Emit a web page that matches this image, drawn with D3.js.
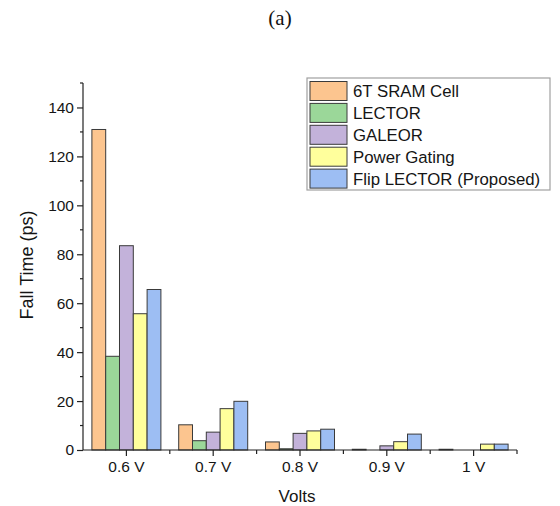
<!DOCTYPE html>
<html>
<head>
<meta charset="utf-8">
<script src="https://cdn.jsdelivr.net/npm/d3@7"></script>
<style>
  html, body { margin: 0; padding: 0; background: #fff; }
  svg { display: block; }
  text { font-family: "Liberation Sans", Arial, sans-serif; fill: #151515; }
</style>
</head>
<body>
<svg id="chart" width="560" height="506"></svg>
<script>
// Fall time (ps) per supply voltage for each cell design
const categories = ["0.6 V", "0.7 V", "0.8 V", "0.9 V", "1 V"];
const seriesNames = ["6T SRAM Cell", "LECTOR", "GALEOR", "Power Gating", "Flip LECTOR (Proposed)"];
const sram6T      = [131, 10.3, 3.3, 0.3, 0.3];
const lector      = [38.3, 3.8, 0.5, 0, 0];
const galeor      = [83.5, 7.3, 6.8, 1.7, 0];
const powerGating = [55.7, 16.9, 7.8, 3.4, 2.4];
const flipLector  = [65.6, 19.9, 8.5, 6.5, 2.4];
const yTicks = [0, 20, 40, 60, 80, 100, 120, 140];
const colors = ["#fcc58f", "#9bd799", "#c3b2da", "#ffff9c", "#9dbef3"];

const series = [sram6T, lector, galeor, powerGating, flipLector];

const svg = d3.select("#chart");
const margin = { left: 83, right: 43, top: 83, bottom: 56 };
const W = 560, H = 506;
const groupFrac = 0.795;

const x0 = d3.scaleBand().domain(categories).range([margin.left, W - margin.right]).padding(0);
const x1 = d3.scaleBand().domain(d3.range(seriesNames.length))
  .range([0, x0.bandwidth() * groupFrac]);
const y = d3.scaleLinear().domain([0, 150]).range([H - margin.bottom, margin.top]);

// title
svg.append("text").attr("x", 280).attr("y", 25).attr("text-anchor", "middle")
  .style("font-family", "'Liberation Serif', 'Times New Roman', serif")
  .style("font-size", "21px").style("fill", "#111").text("(a)");

// bars
const groups = svg.append("g").selectAll("g").data(categories).join("g")
  .attr("transform", c => `translate(${x0(c) + x0.bandwidth() * (1 - groupFrac) / 2},0)`);
groups.selectAll("rect")
  .data((c, ci) => series.map((s, si) => ({ si, v: s[ci] })))
  .join("rect")
  .attr("x", d => x1(d.si))
  .attr("width", x1.bandwidth())
  .attr("y", d => y(d.v))
  .attr("height", d => y(0) - y(d.v))
  .attr("fill", d => colors[d.si])
  .attr("stroke", "#3a3a3a")
  .attr("stroke-width", 1);

// y axis with minor ticks
const yAxis = svg.append("g").attr("transform", `translate(${margin.left},0)`);
yAxis.append("line").attr("x1", 0).attr("x2", 0).attr("y1", y(150)).attr("y2", y(0))
  .attr("stroke", "#222").attr("stroke-width", 1.2);
yAxis.call(d3.axisLeft(y).tickValues(yTicks).tickSize(6).tickPadding(3).tickFormat(d3.format("d")))
  .call(g => g.select(".domain").remove())
  .call(g => g.selectAll("text").style("font-size", "15.5px").style("font-family", "'Liberation Sans', Arial, sans-serif").attr("fill", "#151515"))
  .call(g => g.selectAll(".tick line").attr("stroke", "#222").attr("stroke-width", 1.2));
const yMinor = [10, 30, 50, 70, 90, 110, 130, 150];
yAxis.selectAll(".minor").data(yMinor).join("line").attr("class", "minor")
  .attr("x1", -3).attr("x2", 0).attr("y1", d => y(d)).attr("y2", d => y(d))
  .attr("stroke", "#222").attr("stroke-width", 1.2);

// x axis with category ticks and boundary ticks
const xAxis = svg.append("g").attr("transform", `translate(0,${y(0)})`);
xAxis.call(d3.axisBottom(x0).tickSize(6).tickPadding(5))
  .call(g => g.select(".domain").attr("stroke", "#222").attr("stroke-width", 1.2).attr("d", `M${margin.left},0H${W - margin.right}`))
  .call(g => g.selectAll("text").style("font-size", "15.5px").style("font-family", "'Liberation Sans', Arial, sans-serif").attr("fill", "#151515"))
  .call(g => g.selectAll(".tick line").attr("stroke", "#222").attr("stroke-width", 1.2));
const bounds = categories.map(c => x0(c) + x0.bandwidth());
xAxis.selectAll(".minor").data(bounds).join("line").attr("class", "minor")
  .attr("x1", d => d).attr("x2", d => d).attr("y1", 0).attr("y2", 4)
  .attr("stroke", "#222").attr("stroke-width", 1.2);

// axis titles
svg.append("text").attr("transform", "translate(33,265) rotate(-90)")
  .attr("text-anchor", "middle").style("font-size", "18px").text("Fall Time (ps)");
svg.append("text").attr("x", 297).attr("y", 502).attr("text-anchor", "middle")
  .style("font-size", "17px").text("Volts");

// legend
const legend = svg.append("g").attr("transform", "translate(307,78)");
legend.append("rect").attr("width", 243).attr("height", 112)
  .attr("fill", "#fff").attr("stroke", "#a0a0a0").attr("stroke-width", 1.2);
const rows = legend.selectAll("g.row").data(seriesNames).join("g").attr("class", "row")
  .attr("transform", (d, i) => `translate(3,${3.5 + i * 21.9})`);
rows.append("rect").attr("width", 37).attr("height", 19)
  .attr("fill", (d, i) => colors[i]).attr("stroke", "#3a3a3a").attr("stroke-width", 1);
rows.append("text").attr("x", 43).attr("y", 15.5)
  .style("font-size", "16.8px").text(d => d);
</script>
</body>
</html>
